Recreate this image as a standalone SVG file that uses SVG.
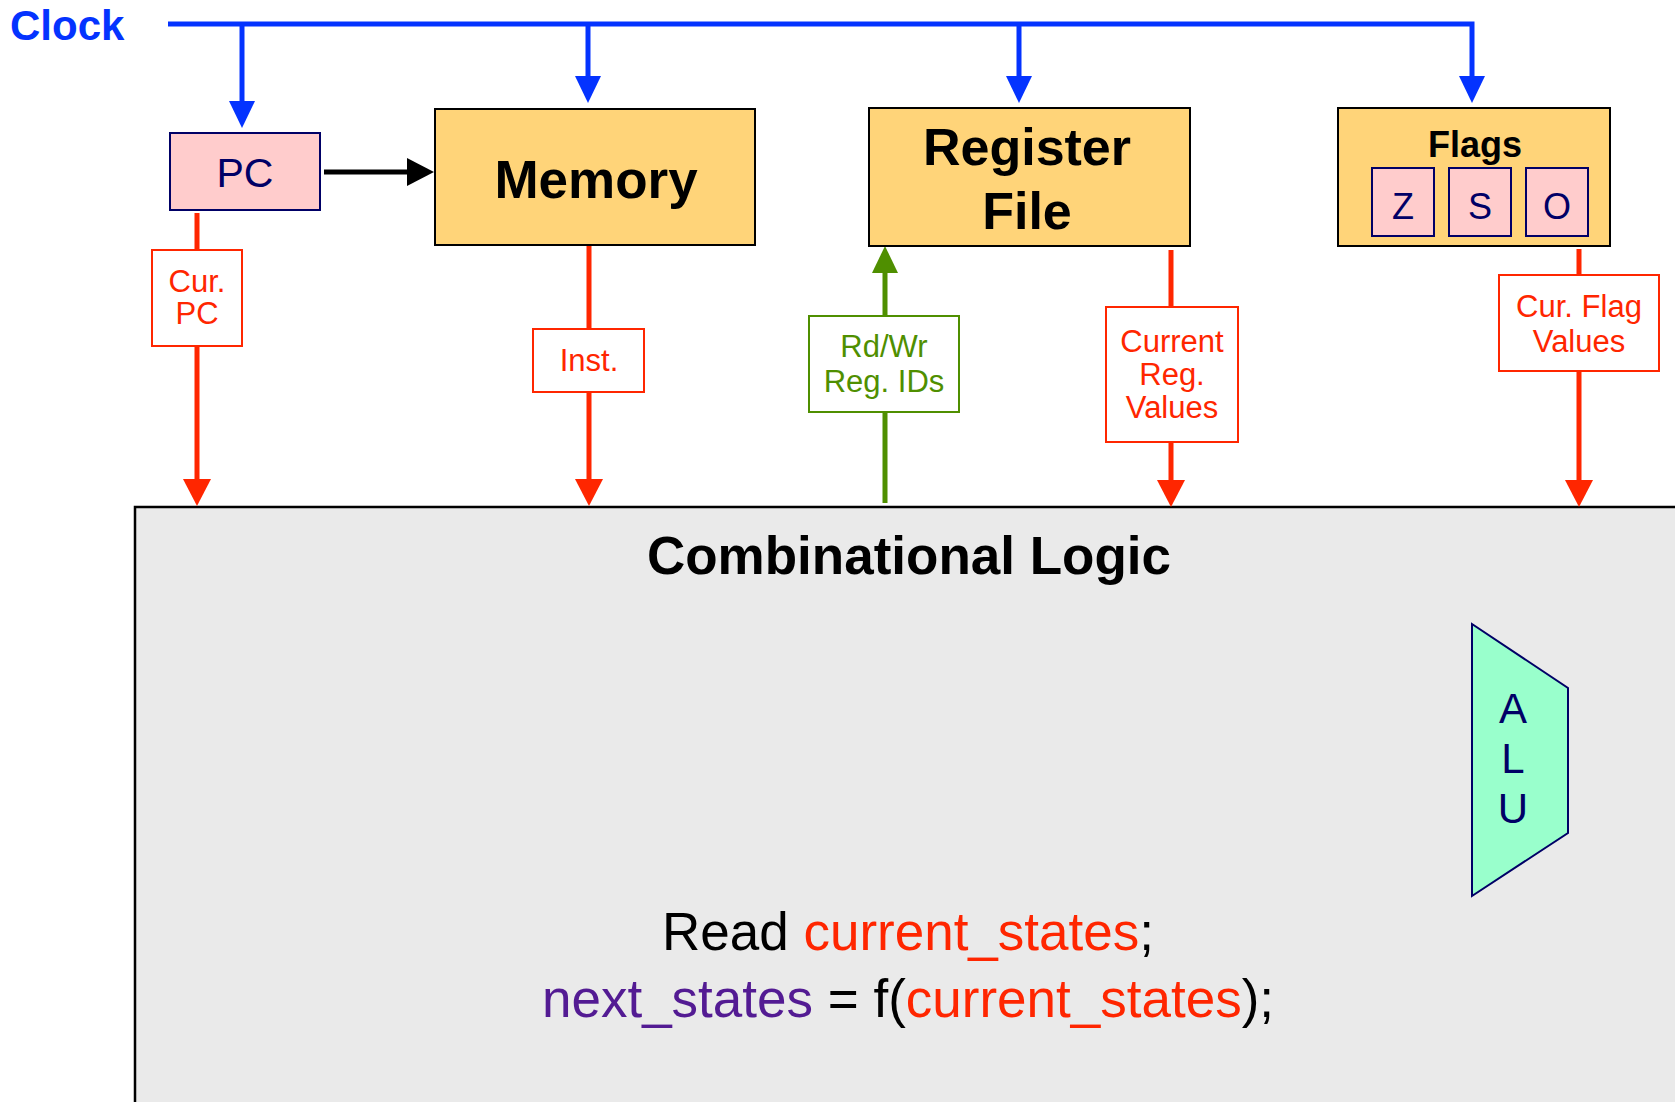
<svg xmlns="http://www.w3.org/2000/svg" width="1675" height="1102" viewBox="0 0 1675 1102">
<style>
text{font-family:"Liberation Sans",Arial,Helvetica,sans-serif}
.reg{fill:#FFD479;stroke:#000;stroke-width:2}
.pink{fill:#FFCCCC;stroke:#000066;stroke-width:2}
.navy{fill:#000066}
.big{font-weight:bold;font-size:53px;text-anchor:middle}
.lbl{font-size:31px;text-anchor:middle}
.red{fill:#FF2600}
.grn{fill:#4F8F00}
.rbox{fill:#fff;stroke:#FF2600;stroke-width:2}
.gbox{fill:#fff;stroke:#4F8F00;stroke-width:2}
.clk{stroke:#0433FF;stroke-width:5;fill:none}
.rl{stroke:#FF2600;stroke-width:5;fill:none}
.gl{stroke:#4F8F00;stroke-width:5;fill:none}
.bl{stroke:#000;stroke-width:5;fill:none}
.code{font-size:53px;text-anchor:middle}
</style>
<defs>
<marker id="ab" markerUnits="userSpaceOnUse" viewBox="0 0 27 26" refX="2" refY="13" markerWidth="27" markerHeight="26" orient="auto"><path d="M0,0 L27,13 L0,26 z" fill="#0433FF"/></marker>
<marker id="ar" markerUnits="userSpaceOnUse" viewBox="0 0 27 28" refX="2" refY="14" markerWidth="27" markerHeight="28" orient="auto"><path d="M0,0 L27,14 L0,28 z" fill="#FF2600"/></marker>
<marker id="ag" markerUnits="userSpaceOnUse" viewBox="0 0 27 26" refX="2" refY="13" markerWidth="27" markerHeight="26" orient="auto"><path d="M0,0 L27,13 L0,26 z" fill="#4F8F00"/></marker>
<marker id="ak" markerUnits="userSpaceOnUse" viewBox="0 0 27 28" refX="2" refY="14" markerWidth="27" markerHeight="28" orient="auto"><path d="M0,0 L27,14 L0,28 z" fill="#000"/></marker>
</defs>
<rect width="1675" height="1102" fill="#fff"/>

<g id="combinational-logic">
<rect x="135" y="507" width="1600" height="700" fill="#EAEAEA" stroke="#000" stroke-width="2.5"/>
<text x="909" y="574" class="big" style="font-size:53px">Combinational Logic</text>
<text x="908" y="950" class="code"><tspan fill="#000">Read </tspan><tspan fill="#FF2600">current_states</tspan><tspan fill="#000">;</tspan></text>
<text x="908" y="1017" class="code"><tspan fill="#531B93">next_states</tspan><tspan fill="#000"> = f(</tspan><tspan fill="#FF2600">current_states</tspan><tspan fill="#000">);</tspan></text>
</g>

<g id="alu">
<polygon points="1472,624 1568,688 1568,833 1472,896" fill="#99FFCC" stroke="#000066" stroke-width="2"/>
<text x="1513" y="723" class="navy" style="font-size:42px;text-anchor:middle">A</text>
<text x="1513" y="773" class="navy" style="font-size:42px;text-anchor:middle">L</text>
<text x="1513" y="823" class="navy" style="font-size:42px;text-anchor:middle">U</text>
</g>

<g id="clock">
<text x="10" y="40" style="font-weight:bold;font-size:42px;fill:#0433FF">Clock</text>
</g>

<g id="connectors">
<path class="clk" d="M168,24 H1472 V78" marker-end="url(#ab)"/>
<path class="clk" d="M242,24 V103" marker-end="url(#ab)"/>
<path class="clk" d="M588,24 V78" marker-end="url(#ab)"/>
<path class="clk" d="M1019,24 V78" marker-end="url(#ab)"/>
<path class="bl" d="M324,172 H409" marker-end="url(#ak)"/>
<path class="rl" d="M197,213 V481" marker-end="url(#ar)"/>
<path class="rl" d="M589,244 V481" marker-end="url(#ar)"/>
<path class="gl" d="M885,503 V271" marker-end="url(#ag)"/>
<path class="rl" d="M1171,250 V482" marker-end="url(#ar)"/>
<path class="rl" d="M1579,249 V482" marker-end="url(#ar)"/>
</g>

<g id="label-cur-pc">
<rect x="152" y="250" width="90" height="96" class="rbox"/>
<text x="197" y="292" class="lbl red">Cur.</text>
<text x="197" y="324" class="lbl red">PC</text>
</g>
<g id="label-inst">
<rect x="533" y="329" width="111" height="63" class="rbox"/>
<text x="589" y="371" class="lbl red">Inst.</text>
</g>
<g id="label-reg-ids">
<rect x="809" y="316" width="150" height="96" class="gbox"/>
<text x="884" y="357" class="lbl grn">Rd/Wr</text>
<text x="884" y="392" class="lbl grn">Reg. IDs</text>
</g>
<g id="label-reg-values">
<rect x="1106" y="307" width="132" height="135" class="rbox"/>
<text x="1172" y="352" class="lbl red">Current</text>
<text x="1172" y="385" class="lbl red">Reg.</text>
<text x="1172" y="418" class="lbl red">Values</text>
</g>
<g id="label-flag-values">
<rect x="1499" y="275" width="160" height="96" class="rbox"/>
<text x="1579" y="317" class="lbl red">Cur. Flag</text>
<text x="1579" y="352" class="lbl red">Values</text>
</g>

<g id="pc">
<rect x="170" y="133" width="150" height="77" class="pink"/>
<text x="245" y="187" class="navy" style="font-size:41px;text-anchor:middle">PC</text>
</g>

<g id="memory">
<rect x="435" y="109" width="320" height="136" class="reg"/>
<text x="596" y="198" class="big">Memory</text>
</g>

<g id="register-file">
<rect x="869" y="108" width="321" height="138" class="reg"/>
<text x="1027" y="165" class="big" style="font-size:52px">Register</text>
<text x="1027" y="229" class="big" style="font-size:52px">File</text>
</g>

<g id="flags">
<rect x="1338" y="108" width="272" height="138" class="reg"/>
<text x="1475" y="157" style="font-weight:bold;font-size:36px;text-anchor:middle">Flags</text>
<rect x="1372" y="168" width="62" height="68" class="pink"/>
<rect x="1449" y="168" width="62" height="68" class="pink"/>
<rect x="1526" y="168" width="62" height="68" class="pink"/>
<text x="1403" y="219" class="navy" style="font-size:36px;text-anchor:middle">Z</text>
<text x="1480" y="219" class="navy" style="font-size:36px;text-anchor:middle">S</text>
<text x="1557" y="219" class="navy" style="font-size:36px;text-anchor:middle">O</text>
</g>
</svg>
